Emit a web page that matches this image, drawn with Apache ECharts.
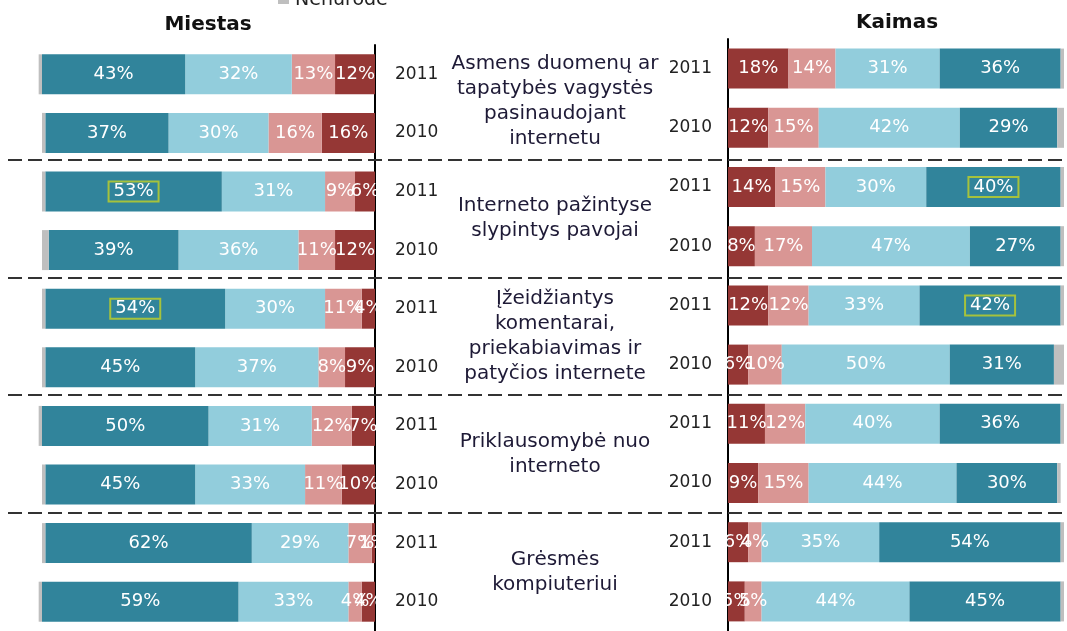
<!DOCTYPE html>
<html>
<head>
<meta charset="utf-8">
<script src="https://cdn.jsdelivr.net/npm/echarts@6/dist/echarts.min.js"></script>
<style>
html,body{margin:0;padding:0;background:#fff;}
#c{width:1067px;height:631px;}
</style>
</head>
<body>
<div id="c"></div>
<script>
// ---- DATA ----
const years = ['2011','2010','2011','2010','2011','2010','2011','2010','2011','2010'];
const topics = [
  'Asmens duomenų ar\ntapatybės vagystės\npasinaudojant\ninternetu',
  'Interneto pažintyse\nslypintys pavojai',
  'Įžeidžiantys\nkomentarai,\npriekabiavimas ir\npatyčios internete',
  'Priklausomybė nuo\ninterneto',
  'Grėsmės\nkompiuteriui'
];
const panelTitles = ['Miestas', 'Kaimas'];
const legendLabel = 'Nenurodė';
const seriesNames = ['Labai didelė', 'Didelė', 'Maža', 'Labai maža', 'Nenurodė'];

// Miestas (city)
const mTeal  = [43, 37, 53, 39, 54, 45, 50, 45, 62, 59];
const mLight = [32, 30, 31, 36, 30, 37, 31, 33, 29, 33];
const mPink  = [13, 16,  9, 11, 11,  8, 12, 11,  7,  4];
const mRed   = [12, 16,  6, 12,  4,  9,  7, 10,  1,  4];
const mGray  = [ 1,  1,  1,  2,  1,  1,  1,  1,  1,  1];

// Kaimas (village)
const kRed   = [18, 12, 14,  8, 12,  6, 11,  9,  6,  5];
const kPink  = [14, 15, 15, 17, 12, 10, 12, 15,  4,  5];
const kLight = [31, 42, 30, 47, 33, 50, 40, 44, 35, 44];
const kTeal  = [36, 29, 40, 27, 42, 31, 36, 30, 54, 45];
const kGray  = [ 1,  2,  1,  1,  1,  3,  1,  1,  1,  1];

// ---- STYLE ----
const C = {teal:'#31849B', light:'#92CDDC', pink:'#D99694', red:'#953735', gray:'#BFBFBF'};
const FONT = 'DejaVu Sans';
const highlightRows = [2, 4]; // boxed labels in the teal series

function mkData(arr, boxed) {
  return arr.map((v, i) => {
    if (boxed && highlightRows.indexOf(i) >= 0) {
      return {value: v, label: {borderColor: '#A6C23C', borderWidth: 2, padding: [1, 5]}};
    }
    return v;
  });
}

function mkSeries(name, arr, color, stack, axisIdx, showLabel, boxed) {
  return {
    name: name, type: 'bar', stack: stack,
    xAxisIndex: axisIdx, yAxisIndex: axisIdx,
    barWidth: 40, clip: false,
    itemStyle: {color: color},
    label: {
      show: showLabel, position: 'inside', formatter: '{c}%',
      color: '#fff', fontFamily: FONT, fontSize: 18
    },
    data: mkData(arr, boxed)
  };
}

const chart = echarts.init(document.getElementById('c'), null, {renderer: 'canvas'});

const yAxisCommon = {
  type: 'category', data: years, inverse: true,
  axisTick: {show: false},
  axisLine: {show: true, onZero: false, lineStyle: {color: '#000', width: 2}},
  axisLabel: {fontFamily: FONT, fontSize: 17, color: '#222'}
};

const option = {
  animation: false,
  backgroundColor: '#fff',
  grid: [
    {left: 42, width: 333, top: 45, height: 594},
    {left: 728, width: 336, top: 39, height: 596}
  ],
  xAxis: [
    {gridIndex: 0, type: 'value', min: 0, max: 100, inverse: true, show: false},
    {gridIndex: 1, type: 'value', min: 0, max: 100, show: false}
  ],
  yAxis: [
    Object.assign({}, yAxisCommon, {gridIndex: 0, position: 'right', axisLabel: Object.assign({}, yAxisCommon.axisLabel, {margin: 20})}),
    Object.assign({}, yAxisCommon, {gridIndex: 1, position: 'left', axisLabel: Object.assign({}, yAxisCommon.axisLabel, {margin: 16})})
  ],
  series: [
    mkSeries(seriesNames[3], mRed,   C.red,   'M', 0, true, false),
    mkSeries(seriesNames[2], mPink,  C.pink,  'M', 0, true, false),
    mkSeries(seriesNames[1], mLight, C.light, 'M', 0, true, false),
    mkSeries(seriesNames[0], mTeal,  C.teal,  'M', 0, true, true),
    mkSeries(seriesNames[4], mGray,  C.gray,  'M', 0, false, false),
    mkSeries(seriesNames[3], kRed,   C.red,   'K', 1, true, false),
    mkSeries(seriesNames[2], kPink,  C.pink,  'K', 1, true, false),
    mkSeries(seriesNames[1], kLight, C.light, 'K', 1, true, false),
    mkSeries(seriesNames[0], kTeal,  C.teal,  'K', 1, true, true),
    mkSeries(seriesNames[4], kGray,  C.gray,  'K', 1, false, false)
  ]
};
chart.setOption(option);

// ---- overlays computed from the axes ----
const yL = years.map((_, i) => chart.convertToPixel({yAxisIndex: 0}, i));
const yR = years.map((_, i) => chart.convertToPixel({yAxisIndex: 1}, i));
const rowY = years.map((_, i) => (yL[i] + yR[i]) / 2);

const graphics = [];
// titles
graphics.push({type: 'text', x: 208, y: 25, style: {text: panelTitles[0], fontFamily: FONT, fontWeight: 'bold', fontSize: 20, fill: '#111', align: 'center', verticalAlign: 'middle'}});
graphics.push({type: 'text', x: 897, y: 23, style: {text: panelTitles[1], fontFamily: FONT, fontWeight: 'bold', fontSize: 20, fill: '#111', align: 'center', verticalAlign: 'middle'}});
// cut-off legend
graphics.push({type: 'rect', shape: {x: 278, y: -8, width: 11, height: 12}, style: {fill: C.gray}});
graphics.push({type: 'text', x: 295, y: 10, style: {text: legendLabel, fontFamily: FONT, fontSize: 19, fill: '#222', align: 'left', verticalAlign: 'bottom'}});
// topics
topics.forEach((t, g) => {
  const cy = (rowY[2 * g] + rowY[2 * g + 1]) / 2;
  graphics.push({type: 'text', x: 555, y: cy, style: {text: t, fontFamily: FONT, fontSize: 20, lineHeight: 25, fill: '#1e1a36', align: 'center', verticalAlign: 'middle'}});
});
// dashed separators
for (let g = 1; g < topics.length; g++) {
  const y = Math.round((rowY[2 * g - 1] + rowY[2 * g]) / 2);
  graphics.push({type: 'line', shape: {x1: 8, y1: y, x2: 1067, y2: y}, style: {stroke: '#333', lineWidth: 2, lineDash: [14, 6]}, z: 10});
}
chart.setOption({graphic: graphics});
</script>
</body>
</html>
